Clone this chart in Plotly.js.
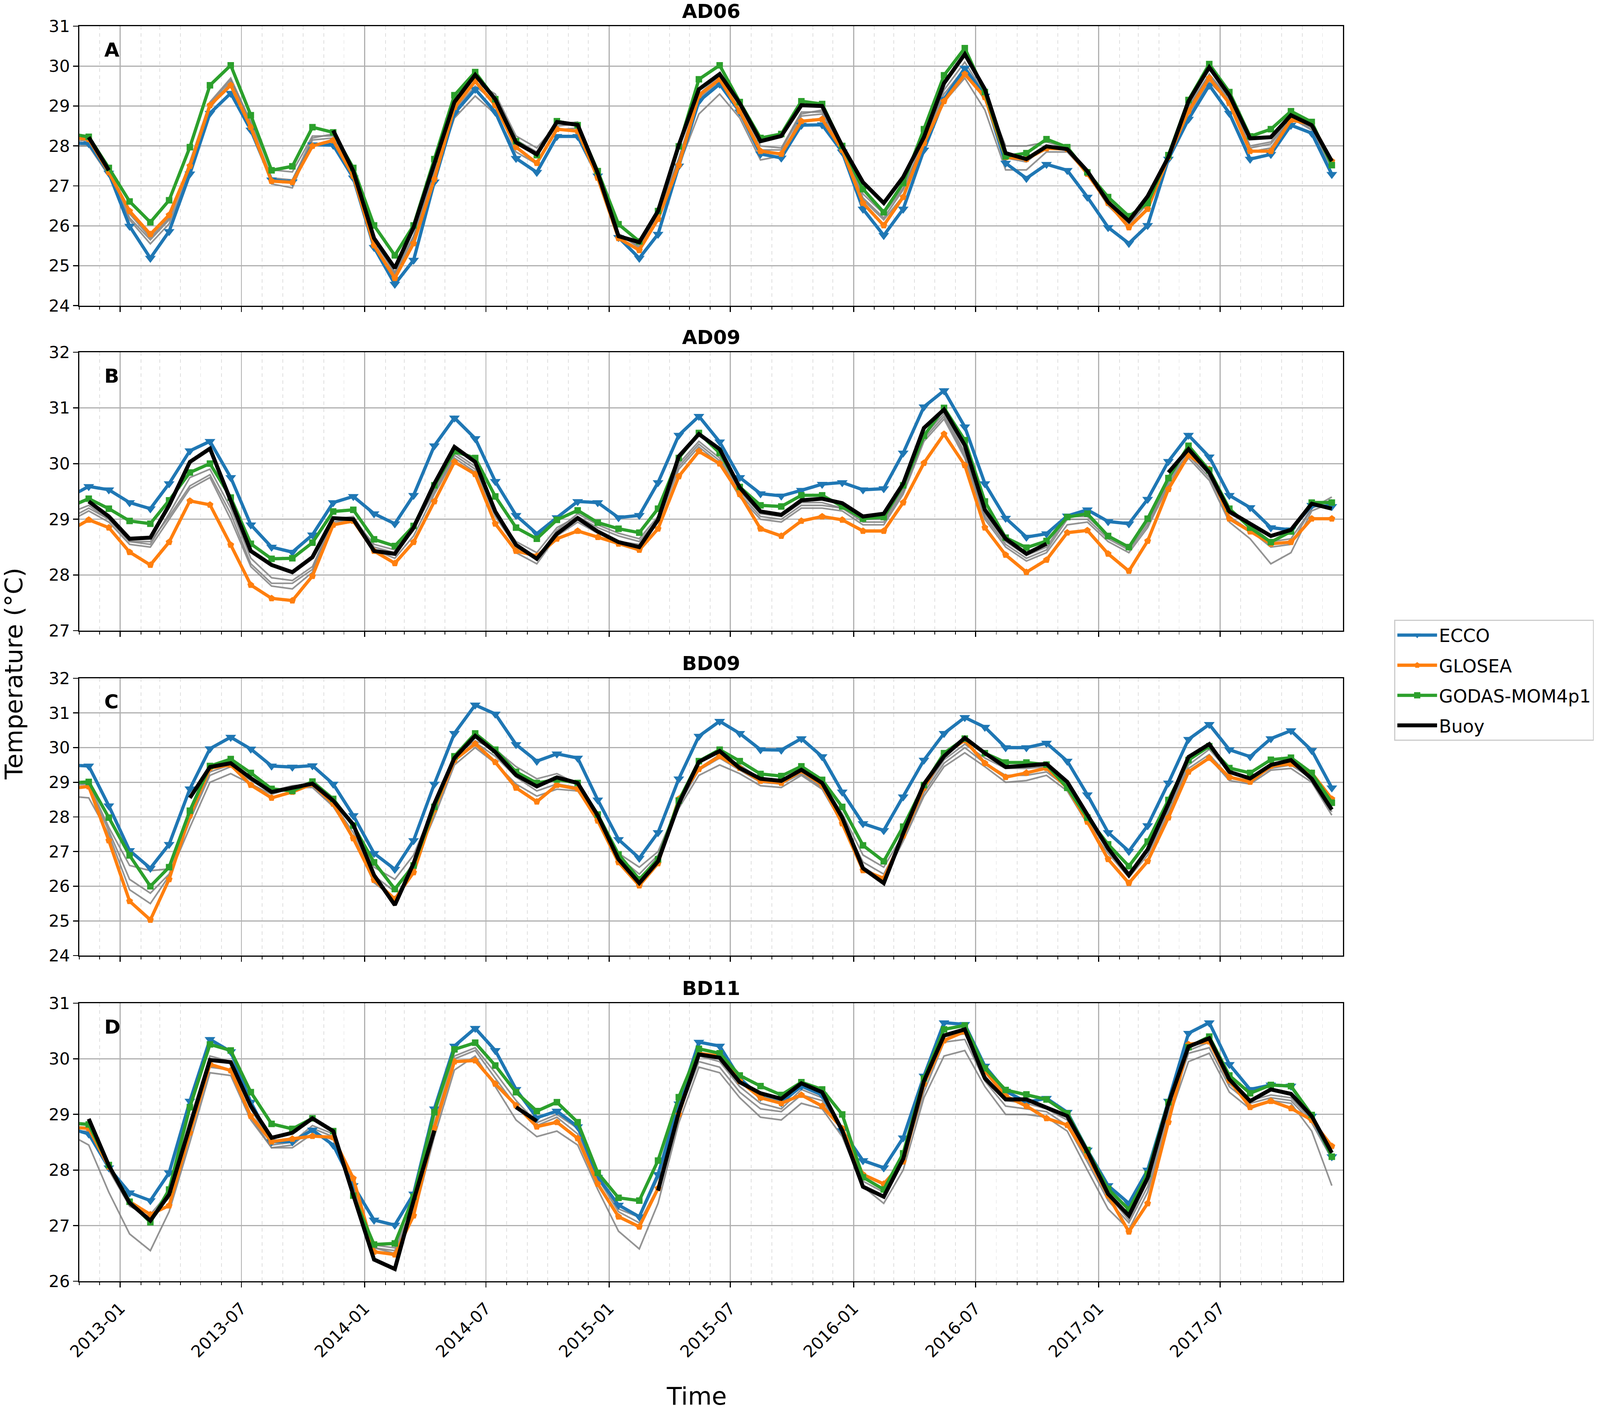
<!DOCTYPE html>
<html>
<head>
<meta charset="utf-8">
<script src="https://cdn.plot.ly/plotly-3.0.1.min.js"></script>
<style>html,body{margin:0;padding:0;background:#fff;overflow:hidden}</style>
</head>
<body>
<div id="chart"></div>
<script>
// Monthly (mid-month) time stamps, Oct 2012 .. Dec 2017 (63 values)
const months = [];
for (let i = 0; i < 63; i++) {
  const d = new Date(Date.UTC(2012, 9 + i, 15));
  months.push(d.toISOString().slice(0, 10));
}
const seriesNames = ['ECCO', 'GLOSEA', 'GODAS-MOM4p1', 'Buoy'];
const panelTitles = ['AD06', 'AD09', 'BD09', 'BD11'];
const panelLetters = ['A', 'B', 'C', 'D'];

// ---------- Panel A : AD06 ----------
const A_ECCO = [28.07, 28.06, 27.32,
  25.99, 25.19, 25.86, 27.3, 28.82, 29.32, 28.4, 27.15, 27.1, 28.03, 28.02, 27.2,
  25.46, 24.54, 25.14, 27.1, 28.82, 29.42, 28.85, 27.69, 27.34, 28.24, 28.24, 27.25,
  25.71, 25.19, 25.79, 27.5, 29.12, 29.55, 28.85, 27.8, 27.7, 28.52, 28.53, 27.85,
  26.42, 25.76, 26.42, 27.9, 29.17, 29.95, 29.25, 27.57, 27.19, 27.54, 27.39, 26.72,
  25.96, 25.56, 26.01, 27.67, 28.67, 29.52, 28.82, 27.67, 27.79, 28.52, 28.32, 27.29];
const A_GLOSEA = [28.22, 28.17, 27.34,
  26.37, 25.79, 26.27, 27.5, 29.02, 29.52, 28.47, 27.12, 27.09, 28.0, 28.14, 27.25,
  25.51, 24.69, 25.56, 27.17, 28.97, 29.62, 29.02, 27.97, 27.57, 28.42, 28.37, 27.2,
  25.69, 25.39, 26.17, 27.52, 29.27, 29.67, 28.87, 27.87, 27.8, 28.62, 28.67, 27.9,
  26.57, 26.01, 26.72, 28.07, 29.12, 29.8, 29.22, 27.72, 27.67, 27.94, 27.92, 27.3,
  26.57, 25.96, 26.42, 27.72, 28.87, 29.7, 29.07, 27.87, 27.87, 28.65, 28.55, 27.62];
const A_GODAS = [28.31, 28.23, 27.45,
  26.61, 26.09, 26.64, 27.97, 29.52, 30.02, 28.77, 27.39, 27.49, 28.47, 28.34, 27.45,
  26.01, 25.26, 26.01, 27.67, 29.27, 29.85, 29.17, 28.12, 27.77, 28.62, 28.52, 27.37,
  26.04, 25.61, 26.37, 27.99, 29.67, 30.02, 29.1, 28.2, 28.3, 29.12, 29.05, 28.0,
  26.92, 26.34, 27.07, 28.42, 29.77, 30.45, 29.35, 27.74, 27.82, 28.17, 27.97, 27.34,
  26.72, 26.24, 26.57, 27.77, 29.15, 30.05, 29.35, 28.24, 28.42, 28.87, 28.6, 27.52];
const A_Buoy = [null, 28.22, 27.39,
  null, null, null, null, null, null, null, null, null, null, 28.39, 27.37,
  25.69, 24.94, 25.96, 27.52, 29.1, 29.78, 29.17, 28.09, 27.79, 28.6, 28.53, 27.32,
  25.74, 25.59, 26.37, 28.02, 29.42, 29.8, 29.07, 28.12, 28.25, 29.02, 29.0, 28.0,
  27.09, 26.57, 27.22, 28.22, 29.57, 30.3, 29.42, 27.82, 27.67, 27.99, 27.92, 27.37,
  26.59, 26.12, 26.74, 27.72, 29.12, 29.97, 29.27, 28.19, 28.22, 28.77, 28.52, 27.62];
const A_Gray1 = [28.05, 28.1, 27.4,
  26.3, 25.7, 26.2, 27.6, 29.1, 29.7, 28.6, 27.4, 27.35, 28.25, 28.25, 27.35,
  25.6, 24.85, 25.75, 27.35, 29.0, 29.6, 29.3, 28.25, 27.95, 28.55, 28.6, 27.4,
  25.75, 25.5, 26.3, 27.7, 29.3, 29.75, 29.0, 28.0, 27.95, 28.85, 28.85, 27.95,
  26.7, 26.2, 26.9, 28.1, 29.4, 30.1, 29.3, 28.0, 28.0, 28.1, 27.95, 27.35,
  26.6, 26.05, 26.55, 27.7, 29.0, 29.8, 29.2, 28.0, 28.1, 28.75, 28.5, 27.55];
const A_Gray2 = [28.0, 28.0, 27.25,
  26.15, 25.55, 26.05, 27.4, 28.95, 29.6, 28.45, 27.05, 26.95, 28.15, 28.2, 27.25,
  25.5, 24.75, 25.6, 27.2, 28.7, 29.25, 28.8, 27.85, 27.55, 28.4, 28.45, 27.3,
  25.8, 25.45, 26.2, 27.5, 28.8, 29.3, 28.7, 27.65, 27.75, 28.75, 28.8, 27.95,
  26.65, 26.15, 26.75, 27.95, 29.1, 29.7, 28.9, 27.4, 27.4, 27.85, 27.85, 27.3,
  26.5, 26.0, 26.45, 27.6, 28.8, 29.6, 29.1, 27.85, 27.95, 28.7, 28.4, 27.45];
const A_Gray3 = [28.1, 28.15, 27.35,
  26.2, 25.65, 26.15, 27.55, 29.05, 29.65, 28.55, 27.2, 27.15, 28.2, 28.3, 27.4,
  25.65, 24.8, 25.7, 27.3, 28.9, 29.5, 29.1, 28.15, 27.85, 28.5, 28.55, 27.35,
  25.8, 25.55, 26.25, 27.65, 29.2, 29.6, 28.9, 27.9, 27.9, 28.8, 28.9, 28.0,
  26.8, 26.3, 26.95, 28.15, 29.3, 29.95, 29.2, 27.7, 27.6, 28.0, 27.9, 27.35,
  26.55, 26.1, 26.6, 27.75, 28.95, 29.75, 29.15, 27.95, 28.05, 28.7, 28.45, 27.5];

// ---------- Panel B : AD09 ----------
const B_ECCO = [29.39, 29.59, 29.53,
  29.30, 29.19, 29.64, 30.23, 30.40, 29.75, 28.90, 28.50, 28.41, 28.72, 29.30, 29.41,
  29.10, 28.92, 29.43, 30.32, 30.82, 30.45, 29.68, 29.07, 28.74, 29.03, 29.32, 29.30,
  29.03, 29.07, 29.66, 30.51, 30.85, 30.39, 29.75, 29.46, 29.42, 29.52, 29.63, 29.66,
  29.53, 29.55, 30.19, 31.02, 31.31, 30.66, 29.64, 29.02, 28.68, 28.74, 29.06, 29.17,
  28.96, 28.92, 29.36, 30.04, 30.51, 30.12, 29.43, 29.21, 28.85, 28.81, 29.25, 29.23];
const B_GLOSEA = [28.78, 28.99, 28.85,
  28.41, 28.18, 28.59, 29.33, 29.26, 28.54, 27.82, 27.58, 27.54, 27.98, 28.90, 28.97,
  28.43, 28.21, 28.59, 29.32, 30.03, 29.81, 28.92, 28.43, 28.34, 28.65, 28.79, 28.68,
  28.56, 28.45, 28.83, 29.77, 30.22, 30.0, 29.45, 28.83, 28.70, 28.97, 29.05, 28.99,
  28.79, 28.79, 29.30, 30.01, 30.53, 29.97, 28.85, 28.36, 28.05, 28.27, 28.76, 28.80,
  28.38, 28.07, 28.61, 29.54, 30.15, 29.90, 29.01, 28.78, 28.56, 28.59, 29.01, 29.01];
const B_GODAS = [29.21, 29.37, 29.19,
  28.97, 28.92, 29.34, 29.84, 30.0, 29.39, 28.56, 28.29, 28.30, 28.58, 29.14, 29.17,
  28.64, 28.52, 28.88, 29.61, 30.22, 30.10, 29.41, 28.85, 28.65, 28.99, 29.16, 28.94,
  28.83, 28.76, 29.19, 30.10, 30.55, 30.19, 29.58, 29.25, 29.23, 29.43, 29.43, 29.23,
  29.01, 29.04, 29.61, 30.50, 31.0, 30.42, 29.32, 28.67, 28.49, 28.61, 29.04, 29.10,
  28.70, 28.50, 29.01, 29.74, 30.32, 29.88, 29.19, 28.85, 28.59, 28.78, 29.30, 29.30];
const B_Buoy = [null, 29.32, 29.05,
  28.65, 28.67, 29.25, 30.03, 30.27, 29.32, 28.43, 28.18, 28.05, 28.32, 29.02, 29.0,
  28.43, 28.38, 28.85, 29.64, 30.30, 30.03, 29.14, 28.54, 28.29, 28.74, 29.02, 28.78,
  28.59, 28.50, 28.99, 30.13, 30.53, 30.26, 29.57, 29.14, 29.08, 29.34, 29.37, 29.29,
  29.05, 29.10, 29.64, 30.64, 30.97, 30.33, 29.17, 28.65, 28.38, 28.56, null, null,
  null, null, null, 29.84, 30.26, 29.84, 29.14, 28.92, 28.70, 28.81, 29.28, 29.19];
const B_Gray1 = [29.1, 29.25, 29.0,
  28.6, 28.55, 29.1, 29.75, 29.9, 29.2, 28.3, 27.95, 27.9, 28.15, 29.0, 29.05,
  28.5, 28.4, 28.8, 29.55, 30.2, 29.95, 29.1, 28.6, 28.4, 28.85, 29.05, 28.85,
  28.7, 28.6, 29.0, 30.0, 30.4, 30.1, 29.5, 29.1, 29.05, 29.3, 29.3, 29.2,
  29.0, 29.0, 29.55, 30.5, 30.9, 30.2, 29.1, 28.6, 28.35, 28.5, 29.05, 29.05,
  28.7, 28.5, 28.95, 29.7, 30.2, 29.8, 29.1, 28.9, 28.6, 28.65, 29.2, 29.4];
const B_Gray2 = [28.95, 29.15, 28.95,
  28.55, 28.5, 29.0, 29.55, 29.75, 29.0, 28.15, 27.8, 27.75, 28.05, 28.9, 28.95,
  28.45, 28.3, 28.7, 29.45, 30.1, 29.85, 28.95, 28.4, 28.2, 28.7, 28.95, 28.75,
  28.6, 28.55, 28.95, 29.9, 30.3, 30.0, 29.4, 29.0, 28.95, 29.2, 29.2, 29.15,
  28.9, 28.9, 29.45, 30.4, 30.8, 30.1, 29.0, 28.5, 28.25, 28.4, 28.9, 28.95,
  28.6, 28.4, 28.85, 29.6, 30.1, 29.7, 28.95, 28.65, 28.2, 28.4, 29.15, 29.3];
const B_Gray3 = [29.0, 29.2, 29.0,
  28.6, 28.6, 29.05, 29.6, 29.8, 29.1, 28.2, 27.85, 27.85, 28.1, 28.95, 29.0,
  28.55, 28.45, 28.85, 29.5, 30.15, 29.9, 29.05, 28.5, 28.3, 28.8, 29.1, 28.9,
  28.75, 28.65, 29.05, 29.95, 30.35, 30.05, 29.45, 29.05, 29.0, 29.25, 29.25, 29.2,
  28.95, 28.95, 29.5, 30.45, 30.85, 30.15, 29.05, 28.55, 28.3, 28.45, 29.0, 29.0,
  28.65, 28.45, 28.9, 29.65, 30.15, 29.75, 29.05, 28.8, 28.5, 28.55, 29.2, 29.35];

// ---------- Panel C : BD09 ----------
const C_ECCO = [29.50, 29.47, 28.32,
  27.03, 26.52, 27.21, 28.81, 29.97, 30.30, 29.96, 29.47, 29.44, 29.48, 28.95, 28.04,
  26.95, 26.49, 27.32, 28.95, 30.41, 31.23, 30.97, 30.09, 29.61, 29.82, 29.70, 28.49,
  27.35, 26.81, 27.55, 29.10, 30.33, 30.76, 30.41, 29.94, 29.93, 30.26, 29.74, 28.72,
  27.81, 27.61, 28.58, 29.64, 30.41, 30.87, 30.59, 30.0, 30.0, 30.13, 29.61, 28.64,
  27.55, 27.01, 27.75, 28.98, 30.24, 30.67, 29.94, 29.74, 30.26, 30.49, 29.92, 28.84];
const C_GLOSEA = [28.81, 28.88, 27.32,
  25.57, 25.03, 26.20, 28.04, 29.41, 29.50, 28.92, 28.55, 28.72, 28.95, 28.38, 27.38,
  26.18, 25.63, 26.40, 28.21, 29.64, 30.11, 29.58, 28.84, 28.44, 28.92, 28.81, 27.89,
  26.69, 26.02, 26.66, 28.52, 29.38, 29.75, 29.41, 29.04, 28.98, 29.33, 28.92, 27.81,
  26.46, 26.23, 27.46, 28.84, 29.81, 30.21, 29.55, 29.15, 29.27, 29.41, 28.84, 27.86,
  26.78, 26.09, 26.72, 27.98, 29.30, 29.70, 29.15, 29.01, 29.47, 29.53, 29.27, 28.52];
const C_GODAS = [28.98, 29.01, 27.98,
  26.89, 26.0, 26.55, 28.18, 29.47, 29.67, 29.27, 28.81, 28.75, 29.02, 28.52, 27.75,
  26.69, 25.92, 26.60, 28.29, 29.75, 30.41, 29.94, 29.30, 28.98, 29.08, 28.98, 28.07,
  26.92, 26.20, 26.78, 28.47, 29.61, 29.94, 29.61, 29.24, 29.18, 29.46, 29.07, 28.29,
  27.18, 26.72, 27.72, 28.92, 29.84, 30.26, 29.84, 29.57, 29.57, 29.51, 28.84, 27.98,
  27.21, 26.58, 27.29, 28.49, 29.64, 30.04, 29.41, 29.27, 29.65, 29.71, 29.27, 28.41];
const C_Buoy = [null, null, null,
  null, null, null, 28.55, 29.44, 29.55, 29.12, 28.72, 28.84, 28.96, 28.47, 27.78,
  26.32, 25.46, 26.66, 28.38, 29.70, 30.34, 29.87, 29.21, 28.88, 29.14, 28.98, 28.04,
  26.78, 26.09, 26.72, 28.38, 29.59, 29.90, 29.41, 29.10, 29.04, 29.36, 28.98, 27.98,
  26.52, 26.09, 27.52, 28.95, 29.75, 30.28, 29.84, 29.44, 29.48, 29.53, 29.01, 28.04,
  27.09, 26.32, 27.06, 28.38, 29.73, 30.10, 29.30, 29.11, 29.50, 29.64, 29.10, 28.21];
const C_Gray1 = [28.9, 28.95, 27.7,
  26.6, 26.45, 26.5, 28.0, 29.3, 29.5, 29.1, 28.75, 28.9, 28.95, 28.45, 27.7,
  26.55, 26.2, 26.9, 28.35, 29.75, 30.2, 29.95, 29.45, 29.1, 29.25, 28.95, 28.05,
  26.95, 26.55, 27.0, 28.4, 29.4, 29.8, 29.5, 29.1, 29.05, 29.35, 29.0, 28.1,
  26.9, 26.55, 27.5, 28.8, 29.65, 30.1, 29.7, 29.4, 29.4, 29.45, 28.95, 28.05,
  27.2, 26.6, 27.3, 28.3, 29.5, 29.95, 29.3, 29.15, 29.5, 29.6, 29.2, 28.3];
const C_Gray2 = [28.6, 28.55, 27.5,
  25.9, 25.5, 26.3, 27.7, 29.0, 29.25, 28.95, 28.65, 28.85, 28.85, 28.3, 27.4,
  26.1, 25.65, 26.6, 28.0, 29.5, 30.0, 29.55, 28.95, 28.6, 28.8, 28.75, 27.9,
  26.75, 26.2, 26.85, 28.25, 29.2, 29.5, 29.25, 28.9, 28.85, 29.2, 28.8, 27.8,
  26.55, 26.2, 27.3, 28.6, 29.45, 29.85, 29.45, 29.0, 29.05, 29.2, 28.75, 27.8,
  26.95, 26.25, 26.9, 28.1, 29.3, 29.7, 29.05, 28.95, 29.35, 29.4, 29.0, 28.05];
const C_Gray3 = [28.85, 28.85, 27.6,
  26.2, 25.8, 26.35, 27.9, 29.2, 29.45, 29.05, 28.7, 28.8, 28.9, 28.4, 27.55,
  26.3, 25.85, 26.7, 28.2, 29.6, 30.15, 29.75, 29.15, 28.75, 28.95, 28.85, 27.95,
  26.85, 26.35, 26.9, 28.35, 29.35, 29.7, 29.35, 29.0, 28.95, 29.25, 28.85, 27.9,
  26.7, 26.35, 27.4, 28.7, 29.55, 30.0, 29.55, 29.2, 29.2, 29.3, 28.85, 27.9,
  27.05, 26.4, 27.0, 28.2, 29.4, 29.8, 29.15, 29.05, 29.4, 29.5, 29.1, 28.15];

// ---------- Panel D : BD11 ----------
const D_ECCO = [28.76, 28.65, 28.04,
  27.59, 27.45, 27.95, 29.24, 30.35, 30.13, 29.22, 28.51, 28.51, 28.72, 28.45, 27.72,
  27.10, 27.01, 27.57, 29.10, 30.23, 30.55, 30.15, 29.45, 28.94, 29.06, 28.78, 27.87,
  27.37, 27.16, 27.92, 29.19, 30.30, 30.23, 29.65, 29.31, 29.21, 29.51, 29.35, 28.71,
  28.17, 28.04, 28.58, 29.69, 30.65, 30.62, 29.87, 29.42, 29.22, 29.29, 29.04, 28.36,
  27.72, 27.40, 28.0, 29.24, 30.46, 30.65, 29.90, 29.45, 29.53, 29.51, 28.97, 28.24];
const D_GLOSEA = [28.77, 28.75, 28.06,
  27.43, 27.20, 27.36, 28.67, 29.90, 29.79, 28.97, 28.51, 28.56, 28.61, 28.59, 27.85,
  26.53, 26.48, 27.18, 28.76, 29.95, 29.97, 29.55, 29.16, 28.78, 28.86, 28.57, 27.75,
  27.16, 26.98, 27.67, 29.0, 30.1, 30.05, 29.6, 29.3, 29.2, 29.35, 29.15, 28.75,
  27.92, 27.75, 28.15, 29.55, 30.33, 30.49, 29.78, 29.33, 29.15, 28.93, 28.81, 28.25,
  27.54, 26.89, 27.40, 28.86, 30.26, 30.31, 29.61, 29.13, 29.24, 29.11, 28.90, 28.43];
const D_GODAS = [28.85, 28.82, 28.09,
  27.43, 27.06, 27.65, 29.13, 30.26, 30.15, 29.40, 28.83, 28.74, 28.93, 28.70, 27.54,
  26.66, 26.68, 27.52, 29.04, 30.17, 30.29, 29.88, 29.40, 29.06, 29.22, 28.86, 27.95,
  27.50, 27.45, 28.17, 29.31, 30.18, 30.10, 29.70, 29.51, 29.35, 29.58, 29.45, 29.0,
  27.87, 27.65, 28.3, 29.65, 30.53, 30.60, 29.83, 29.44, 29.36, 29.27, 29.02, 28.36,
  27.66, 27.29, 27.93, 29.22, 30.21, 30.40, 29.70, 29.38, 29.53, 29.51, 28.99, 28.24];
const D_Buoy = [null, 28.92, 28.08,
  27.41, 27.09, 27.56, 28.76, 29.98, 29.94, 29.15, 28.58, 28.67, 28.93, 28.70, 27.55,
  26.39, 26.22, 27.45, 28.71, null, null, null, 29.13, 28.88, null, null, null,
  null, null, 27.63, 29.04, 30.08, 30.02, 29.58, 29.38, 29.28, 29.56, 29.40, 28.71,
  27.70, 27.52, 28.2, 29.6, 30.42, 30.53, 29.65, 29.27, 29.27, 29.13, 28.97, 28.33,
  27.57, 27.18, 27.86, 29.19, 30.22, 30.37, 29.63, 29.24, 29.45, 29.37, 28.97, 28.31];
const D_Gray1 = [28.65, 28.45, 27.6,
  26.85, 26.55, 27.25, 28.5, 29.75, 29.7, 28.9, 28.4, 28.4, 28.65, 28.55, 27.6,
  26.6, 26.5, 27.15, 28.6, 29.8, 30.05, 29.5, 28.9, 28.6, 28.7, 28.45, 27.65,
  26.9, 26.58, 27.4, 28.85, 29.85, 29.75, 29.3, 28.95, 28.9, 29.2, 29.1, 28.6,
  27.7, 27.4, 28.0, 29.3, 30.05, 30.15, 29.5, 29.0, 29.0, 28.95, 28.7, 28.0,
  27.3, 26.93, 27.6, 28.9, 29.95, 30.1, 29.4, 29.1, 29.25, 29.2, 28.7, 27.72];
const D_Gray2 = [28.7, 28.7, 28.0,
  27.35, 27.15, 27.5, 28.75, 29.85, 29.8, 28.95, 28.4, 28.45, 28.75, 28.6, 27.7,
  26.6, 26.55, 27.25, 28.75, 30.0, 30.15, 29.65, 29.15, 28.8, 28.95, 28.65, 27.85,
  27.25, 27.05, 27.7, 29.0, 29.95, 29.85, 29.4, 29.1, 29.05, 29.35, 29.25, 28.7,
  27.8, 27.6, 28.15, 29.4, 30.3, 30.35, 29.6, 29.15, 29.1, 29.05, 28.8, 28.15,
  27.45, 27.05, 27.7, 29.0, 30.1, 30.2, 29.5, 29.2, 29.3, 29.25, 28.85, 28.2];
const D_Gray3 = [28.75, 28.75, 28.05,
  27.45, 27.2, 27.6, 28.9, 30.05, 29.95, 29.1, 28.45, 28.5, 28.8, 28.65, 27.65,
  26.65, 26.6, 27.35, 28.85, 30.05, 30.2, 29.75, 29.25, 28.85, 29.0, 28.75, 27.9,
  27.3, 27.15, 27.85, 29.1, 30.05, 29.95, 29.5, 29.2, 29.1, 29.45, 29.3, 28.75,
  27.85, 27.65, 28.25, 29.5, 30.4, 30.45, 29.7, 29.25, 29.2, 29.1, 28.9, 28.25,
  27.55, 27.1, 27.8, 29.1, 30.15, 30.3, 29.55, 29.25, 29.35, 29.3, 28.9, 28.25];

const panels = [
  {main: [A_ECCO, A_GLOSEA, A_GODAS, A_Buoy], gray: [A_Gray1, A_Gray2, A_Gray3], range: [24, 31], dom: [0.7838, 0.9815]},
  {main: [B_ECCO, B_GLOSEA, B_GODAS, B_Buoy], gray: [B_Gray1, B_Gray2, B_Gray3], range: [27, 32], dom: [0.5540, 0.7509]},
  {main: [C_ECCO, C_GLOSEA, C_GODAS, C_Buoy], gray: [C_Gray1, C_Gray2, C_Gray3], range: [24, 32], dom: [0.3242, 0.5203]},
  {main: [D_ECCO, D_GLOSEA, D_GODAS, D_Buoy], gray: [D_Gray1, D_Gray2, D_Gray3], range: [26, 31], dom: [0.0939, 0.2905]}
];

// Fit the figure to the real viewport; scale pixel sizes with it
const W = window.innerWidth || document.documentElement.clientWidth || 4795;
const H = window.innerHeight || document.documentElement.clientHeight || 3621;
const SX = W / 4795, SY = H / 3621;
const S = Math.sqrt(SX * SY);
const div = document.getElementById('chart');
div.style.width = W + 'px';
div.style.height = H + 'px';

const styles = [
  {color: '#1f77b4', symbol: 'triangle-down', size: 26, width: 9},
  {color: '#ff7f0e', symbol: 'pentagon', size: 20, width: 9},
  {color: '#2ca02c', symbol: 'square', size: 18, width: 9},
  {color: '#000000', symbol: null, size: 0, width: 11}
];

const XDOM = [0.0496, 0.8394];
const FONT = 'DejaVu Sans';
const traces = [];
const layout = {
  width: W, height: H,
  margin: {l: 0, r: 0, t: 0, b: 0},
  paper_bgcolor: 'white', plot_bgcolor: 'white',
  font: {family: FONT, size: 44 * S, color: 'black'},
  hovermode: false,
  showlegend: true,
  legend: {x: 0.9962, y: 0.5617, xanchor: 'right', yanchor: 'top',
    bordercolor: '#cccccc', borderwidth: 3 * S, bgcolor: 'white',
    font: {family: FONT, size: 50 * S, color: 'black'},
    itemwidth: Math.max(30, 110 * S), tracegroupgap: 14 * SY},
  annotations: []
};

panels.forEach((p, i) => {
  const k = i + 1;
  const xk = k === 1 ? 'x' : 'x' + k;
  const yk = k === 1 ? 'y' : 'y' + k;
  p.gray.forEach(g => {
    traces.push({x: months, y: g, xaxis: xk, yaxis: yk, type: 'scatter', mode: 'lines',
      line: {color: 'rgba(128,128,128,0.85)', width: 4.5 * S}, showlegend: false, hoverinfo: 'skip'});
  });
  p.main.forEach((vals, s) => {
    const st = styles[s];
    const t = {x: months, y: vals, xaxis: xk, yaxis: yk, type: 'scatter',
      name: seriesNames[s], legendgroup: seriesNames[s], showlegend: i === 0,
      line: {color: st.color, width: st.width * S}, connectgaps: false};
    if (st.symbol) {
      t.mode = 'lines+markers';
      t.marker = {symbol: st.symbol, size: st.size * S, color: st.color, line: {width: 0}};
    } else {
      t.mode = 'lines';
    }
    traces.push(t);
  });

  layout['xaxis' + (k === 1 ? '' : k)] = {
    domain: XDOM, anchor: yk, type: 'date',
    range: ['2012-11-01', '2017-12-31 18:00'],
    tick0: '2013-01-01', dtick: 'M6', tickformat: '%Y-%m',
    showticklabels: k === 4, tickangle: -45, ticklabelstandoff: 12 * SY,
    tickfont: {family: FONT, size: 46 * S, color: 'black'},
    ticks: 'outside', ticklen: 14 * S, tickwidth: 3 * S, tickcolor: 'black',
    showgrid: true, gridcolor: '#b0b0b0', gridwidth: 3 * S,
    showline: true, linecolor: 'black', linewidth: 3 * S, mirror: true, zeroline: false,
    minor: {dtick: 'M1', showgrid: true, gridcolor: '#dedede', gridwidth: 2 * S, griddash: 'dash',
      ticks: 'outside', ticklen: 8 * S, tickwidth: 2 * S, tickcolor: 'black'}
  };
  layout['yaxis' + (k === 1 ? '' : k)] = {
    domain: p.dom, anchor: xk, range: p.range, dtick: 1, tick0: 0,
    tickfont: {family: FONT, size: 46 * S, color: 'black'},
    ticks: 'outside', ticklen: 14 * S, tickwidth: 3 * S, tickcolor: 'black',
    showgrid: true, gridcolor: '#b0b0b0', gridwidth: 3 * S,
    showline: true, linecolor: 'black', linewidth: 3 * S, mirror: true, zeroline: false
  };
  layout.annotations.push({
    text: '<b>' + panelTitles[i] + '</b>', xref: 'paper', yref: 'paper',
    x: (XDOM[0] + XDOM[1]) / 2, y: p.dom[1], xanchor: 'center', yanchor: 'middle', yshift: 38 * SY,
    showarrow: false, font: {family: FONT, size: 54 * S, color: 'black'}
  });
  layout.annotations.push({
    text: '<b>' + panelLetters[i] + '</b>', xref: xk + ' domain', yref: yk + ' domain',
    x: 0.019, y: 0.915, xanchor: 'left', yanchor: 'middle',
    showarrow: false, font: {family: FONT, size: 54 * S, color: 'black'}
  });
});

layout.annotations.push({
  text: 'Temperature (°C)', textangle: -90, xref: 'paper', yref: 'paper',
  x: 0.0085, y: 0.5236, xanchor: 'center', yanchor: 'middle', showarrow: false,
  font: {family: FONT, size: 68 * S, color: 'black'}
});
layout.annotations.push({
  text: 'Time', xref: 'paper', yref: 'paper',
  x: 0.4355, y: 0.0125, xanchor: 'center', yanchor: 'middle', showarrow: false,
  font: {family: FONT, size: 68 * S, color: 'black'}
});

Plotly.newPlot('chart', traces, layout, {staticPlot: true, displayModeBar: false});
</script>
</body>
</html>
